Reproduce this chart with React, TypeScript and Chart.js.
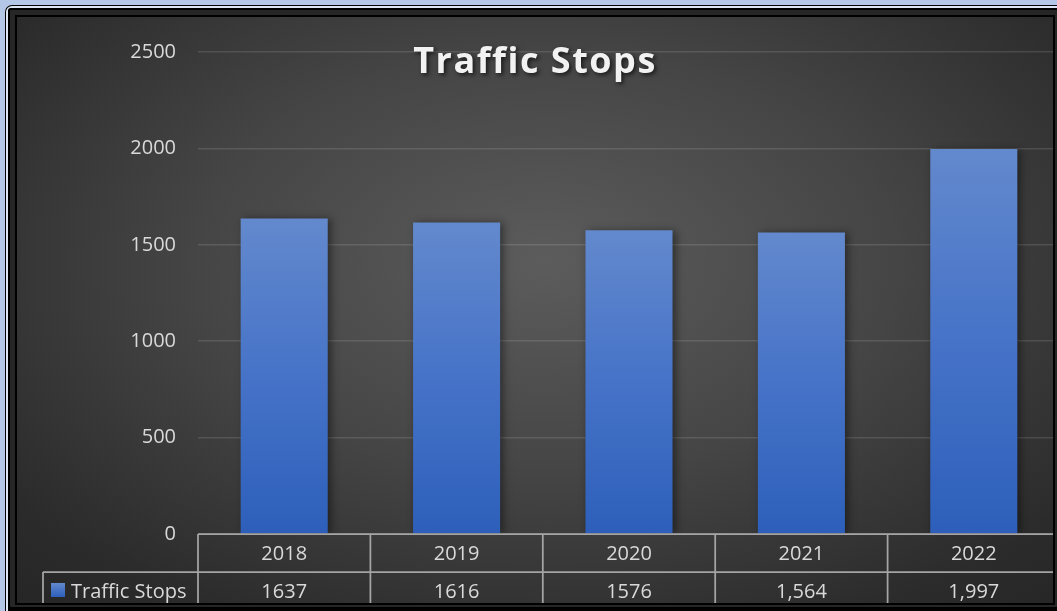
import React, { useEffect, useRef } from "react";
import { Chart, registerables } from "chart.js";

Chart.register(...registerables);

const chartTitle = "Traffic Stops";
const seriesName = "Traffic Stops";
const categories = ["2018", "2019", "2020", "2021", "2022"];
const trafficStops = [1637, 1616, 1576, 1564, 1997];
const tableLabels = ["1637", "1616", "1576", "1,564", "1,997"];
const yMin = 0;
const yMax = 2500;
const yStep = 500;

const FONT = "'Open Sans', 'DejaVu Sans', sans-serif";
const TEXT = "#d9d9d9";

const barShadow = {
  id: "barShadow",
  beforeDatasetsDraw(chart: any) {
    const ctx = chart.ctx;
    ctx.save();
    ctx.shadowColor = "rgba(0,0,0,0.45)";
    ctx.shadowBlur = 8;
    ctx.shadowOffsetX = 3;
    ctx.shadowOffsetY = 1;
  },
  afterDatasetsDraw(chart: any) {
    chart.ctx.restore();
  },
};

const dataTable = {
  id: "dataTable",
  afterDraw(chart: any) {
    const { ctx, chartArea, scales } = chart;
    const x = scales.x;
    const n = categories.length;
    const w = (chartArea.right - chartArea.left) / n;
    const top = chartArea.bottom;
    const rowH = 38;
    const bottom = chart.height + 10;
    const legendLeft = 26;
    ctx.save();
    ctx.strokeStyle = "#a5a5a5";
    ctx.lineWidth = 1.75;
    const line = (x1: number, y1: number, x2: number, y2: number) => {
      ctx.beginPath();
      ctx.moveTo(x1, y1);
      ctx.lineTo(x2, y2);
      ctx.stroke();
    };
    line(chartArea.left, top, chart.width, top);
    line(legendLeft, top + rowH, chart.width, top + rowH);
    for (let i = 0; i <= n; i++) {
      const xb = chartArea.left + i * w;
      line(xb, top, xb, bottom);
    }
    line(legendLeft, top + rowH, legendLeft, bottom);

    ctx.font = `20px ${FONT}`;
    ctx.fillStyle = TEXT;
    ctx.textAlign = "center";
    ctx.textBaseline = "alphabetic";
    categories.forEach((c, i) => {
      ctx.fillText(c, x.getPixelForValue(i), top + 25.5);
    });
    tableLabels.forEach((c, i) => {
      ctx.fillText(c, x.getPixelForValue(i), top + rowH + 26);
    });

    // legend key
    const sq = ctx.createLinearGradient(0, top + rowH + 11, 0, top + rowH + 25);
    sq.addColorStop(0, "#6389cd");
    sq.addColorStop(1, "#2d5fba");
    ctx.fillStyle = sq;
    ctx.fillRect(legendLeft + 8, top + rowH + 11, 14, 14);
    ctx.fillStyle = TEXT;
    ctx.textAlign = "left";
    ctx.fillText(seriesName, legendLeft + 28, top + rowH + 26);
    ctx.restore();
  },
};

const titlePlugin = {
  id: "titlePlugin",
  afterDraw(chart: any) {
    const ctx = chart.ctx;
    ctx.save();
    ctx.font = `bold 36px ${FONT}`;
    (ctx as any).letterSpacing = "1.5px";
    ctx.textAlign = "center";
    ctx.textBaseline = "alphabetic";
    ctx.shadowColor = "rgba(0,0,0,0.65)";
    ctx.shadowBlur = 4;
    ctx.shadowOffsetX = 2;
    ctx.shadowOffsetY = 2;
    ctx.fillStyle = "#f2f2f2";
    ctx.fillText(chartTitle, 518, 56);
    ctx.restore();
  },
};

function ChartView() {
  const ref = useRef<HTMLCanvasElement | null>(null);
  useEffect(() => {
    if (!ref.current) return;
    const chart = new Chart(ref.current, {
      type: "bar",
      data: {
        labels: categories,
        datasets: [
          {
            label: seriesName,
            data: trafficStops,
            backgroundColor: (c: any) => {
              const chart = c.chart;
              const { ctx, chartArea, scales } = chart;
              if (!chartArea || c.type !== "data" || !scales.y) return "#4472c4";
              const top = scales.y.getPixelForValue(c.raw);
              const base = scales.y.getPixelForValue(0);
              const g = ctx.createLinearGradient(0, top, 0, base);
              g.addColorStop(0, "#6389cd");
              g.addColorStop(0.5, "#4673c8");
              g.addColorStop(1, "#2d5fba");
              return g;
            },
            borderWidth: 0,
            barPercentage: 0.505,
            categoryPercentage: 1,
          },
        ],
      },
      options: {
        responsive: false,
        animation: false,
        devicePixelRatio: 1,
        layout: { padding: { top: 35, bottom: 69, left: 0, right: 2 } },
        plugins: {
          legend: { display: false },
          title: { display: false },
          tooltip: { enabled: false },
        },
        scales: {
          x: {
            display: false,
            offset: true,
          },
          y: {
            min: yMin,
            max: yMax,
            ticks: {
              stepSize: yStep,
              color: TEXT,
              padding: 22,
              font: { family: FONT, size: 20 },
              callback: (v: any) => String(v),
            },
            grid: {
              color: "rgba(255,255,255,0.12)",
              lineWidth: 1.5,
              drawTicks: false,
            },
            border: { display: false },
            afterFit: (scale: any) => {
              scale.width = 181;
            },
          },
        },
      },
      plugins: [barShadow, dataTable, titlePlugin],
    });
    return () => chart.destroy();
  }, []);
  return (
    <canvas
      ref={ref}
      width={1045}
      height={586}
      style={{ position: "absolute", left: 0, top: 0, width: 1045, height: 586 }}
    />
  );
}

export default function App() {
  const abs: React.CSSProperties = { position: "absolute", boxSizing: "border-box" };
  return (
    <div style={{ position: "fixed", inset: 0, background: "#b4c7e7", overflow: "hidden" }}>
      <div style={{ ...abs, left: 5, top: 5, width: 1100, height: 700, background: "#000", borderRadius: 7 }} />
      <div style={{ ...abs, left: 6, top: 6, width: 1100, height: 700, border: "2px solid #dde6f3", borderRadius: 6 }} />
      <div style={{ ...abs, left: 8, top: 8, width: 1100, height: 601, border: "2px solid #000", background: "#262626", borderRadius: 3 }} />
      <div style={{ ...abs, left: 15, top: 15, width: 1040, height: 590, border: "2px solid #000", background: "#000" }} />
      <div
        style={{
          position: "absolute",
          left: 17,
          top: 17,
          width: 1036,
          height: 586,
          overflow: "hidden",
          background: "radial-gradient(ellipse 75% 80% at 51% 42%, #5c5c5c 0%, #454545 45%, #2b2b2b 85%, #262626 100%)",
        }}
      >
        <ChartView />
      </div>
    </div>
  );
}
